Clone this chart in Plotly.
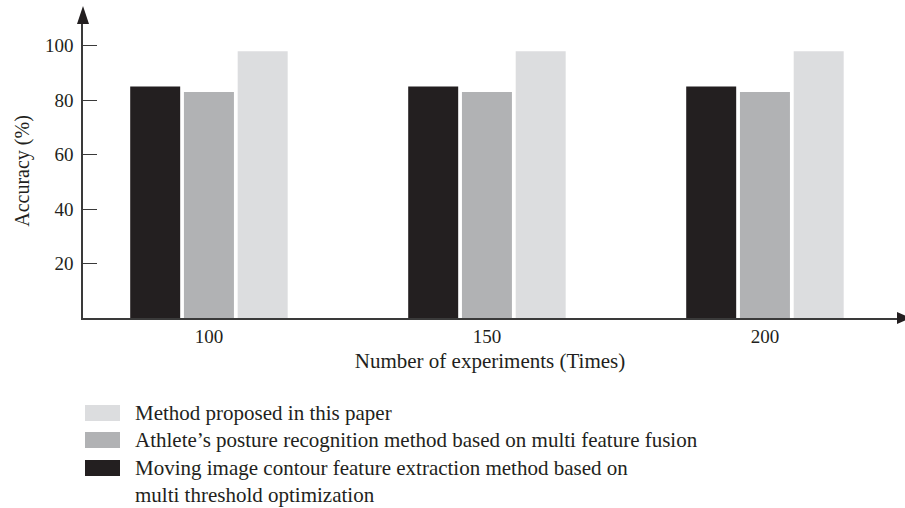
import plotly.graph_objects as go

categories = ["100", "150", "200"]
series_names = [
    "Moving image contour feature extraction method based on<br>multi threshold optimization",
    "Athlete’s posture recognition method based on multi feature fusion",
    "Method proposed in this paper",
]
moving_contour = [85, 85, 85]
multi_feature = [83, 83, 83]
proposed = [98, 98, 98]
colors = ["#231f20", "#b1b2b4", "#dcdddf"]
y_ticks = [20, 40, 60, 80, 100]

FONT = "Liberation Serif"
TXT = "#231f20"

fig = go.Figure()
for name, vals, col in zip(series_names, [moving_contour, multi_feature, proposed], colors):
    fig.add_trace(go.Bar(x=categories, y=vals, name=name, marker=dict(color=col, line=dict(width=0)),
                         showlegend=False))

fig.update_layout(
    width=905, height=508,
    margin=dict(l=83, r=8, t=24, b=190),
    paper_bgcolor="white", plot_bgcolor="white",
    barmode="group", bargap=0.42, bargroupgap=0.07,
    font=dict(family=FONT, color=TXT, size=19),
    xaxis=dict(type="category", range=[-0.453, 2.475], showgrid=False, zeroline=False,
               showline=True, linecolor="#3a3a3a", linewidth=1.5, ticks="",
               tickfont=dict(size=19), title=dict(text="Number of experiments (Times)", font=dict(size=21), standoff=8)),
    yaxis=dict(range=[0, 108], showgrid=False, zeroline=False, showline=True,
               linecolor="#3a3a3a", linewidth=1.5, ticks="inside", ticklen=14, tickwidth=1.3,
               tickcolor="#3a3a3a", tickvals=y_ticks, ticklabelstandoff=4,
               tickfont=dict(size=19), title=dict(text="Accuracy (%)", font=dict(size=20), standoff=10)),
)

# axis arrowheads
fig.add_shape(type="path", xref="paper", yref="paper", xsizemode="pixel", ysizemode="pixel",
              xanchor=0, yanchor=1, path="M -6,0 L 6,0 L 0,18 Z",
              fillcolor="#231f20", line=dict(width=0))
fig.add_shape(type="path", xref="paper", yref="paper", xsizemode="pixel", ysizemode="pixel",
              xanchor=1, yanchor=0, path="M 0,-6 L 0,6 L 14,0 Z",
              fillcolor="#231f20", line=dict(width=0))

# custom legend (proposed on top), rows at pixel y of the page
legend_rows = [(2, 413), (1, 440), (0, 468)]
for idx, ypx in legend_rows:
    dy = 318 - ypx
    fig.add_shape(type="rect", xref="paper", yref="paper", xsizemode="pixel", ysizemode="pixel",
                  xanchor=0, yanchor=0, x0=2, x1=37, y0=dy - 8, y1=dy + 8,
                  fillcolor=colors[idx], line=dict(width=0))
    fig.add_annotation(text=series_names[idx], xref="paper", yref="paper", x=0, y=0,
                       xshift=50, yshift=dy + 14, xanchor="left", yanchor="top",
                       align="left", showarrow=False, font=dict(size=21, family=FONT, color=TXT))

fig.write_html("out.html", config={"displayModeBar": False},
               post_script="document.body.style.margin='0px';")
